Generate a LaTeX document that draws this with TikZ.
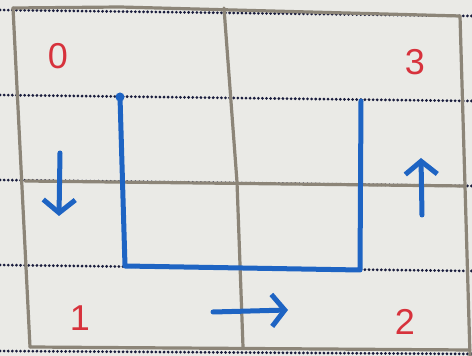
\documentclass[tikz,border=0pt]{standalone}
\usepackage{fontspec}
\setmainfont{Liberation Sans}
\usetikzlibrary{arrows.meta}
\definecolor{paper}{RGB}{234,234,230}
\definecolor{gridgray}{RGB}{140,133,120}
\definecolor{dotnavy}{RGB}{25,28,60}
\definecolor{penblue}{RGB}{30,100,195}
\definecolor{penred}{RGB}{215,50,60}
\tikzset{
  gridline/.style={draw=gridgray, line width=3.2pt, line cap=round},
  dotline/.style={draw=dotnavy, line width=3pt, line cap=round, dash pattern=on 0.1pt off 4pt},
  bluepath/.style={draw=penblue, line width=5pt, line join=round, line cap=round},
  bluearrow/.style={draw=penblue, line width=5pt, line cap=round, -{Straight Barb[length=13pt,width=32pt,line width=5pt]}},
  lbl/.style={text=penred, font=\fontsize{36}{36}\selectfont, inner sep=0pt}
}
\begin{document}
\begin{tikzpicture}[x=1pt,y=1pt]
\useasboundingbox (0,0) rectangle (472,356);
\fill[paper] (0,0) rectangle (472,356);
% dotted ruled lines
\draw[dotline] (0,346) -- (472,340);
\draw[dotline] (0,261) -- (472,255);
\draw[dotline] (0,176) -- (472,170);
\draw[dotline] (0,91) -- (472,85);
\draw[dotline] (0,5) -- (472,2);
% gray grid
\draw[gridline] (13,348) -- (30,9);
\draw[gridline] (224,348) -- (237,174) -- (243,9);
\draw[gridline] (460,340) -- (470,0);
\draw[gridline] (13,348) -- (120,349) -- (460,340);
\draw[gridline] (25,175) -- (465,170);
\draw[gridline] (30,9) -- (470,6);
% blue path
\coordinate (p0) at (120,259);
\coordinate (p1) at (125,90);
\coordinate (p2) at (360,86);
\coordinate (p3) at (361,255);
\draw[bluepath] (p0) -- (p1) -- (p2) -- (p3);
\fill[penblue] (p0) circle (4.5pt);
% arrows
\coordinate (d0) at (60,203);
\coordinate (d1) at (59,140);
\coordinate (u0) at (422,141);
\coordinate (u1) at (421,198);
\coordinate (r0) at (213,44);
\coordinate (r1) at (288,46);
\draw[bluearrow] (d0) -- (d1);
\draw[bluearrow] (u0) -- (u1);
\draw[bluearrow] (r0) -- (r1);
% labels
\node[lbl] (l0) at (58,300) {0};
\node[lbl] (l3) at (415,294) {3};
\node[lbl] (l1) at (80,38) {1};
\node[lbl] (l2) at (405,34) {2};
\end{tikzpicture}
\end{document}
